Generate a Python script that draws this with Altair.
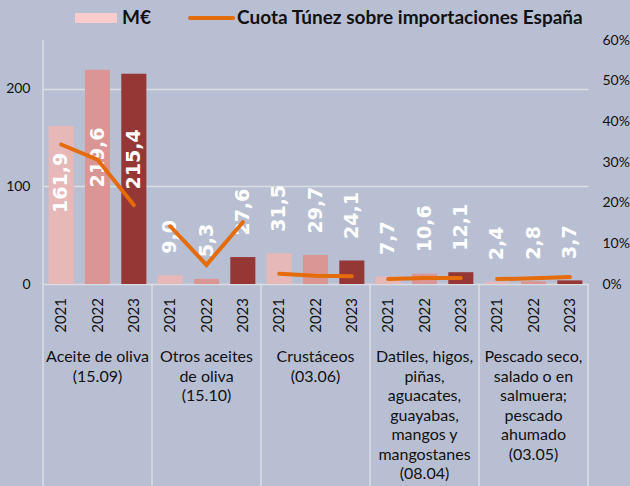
import altair as alt
import pandas as pd

categories = [
    "Aceite de oliva\n(15.09)",
    "Otros aceites\nde oliva\n(15.10)",
    "Crustáceos\n(03.06)",
    "Datiles, higos,\npiñas,\naguacates,\nguayabas,\nmangos y\nmangostanes\n(08.04)",
    "Pescado seco,\nsalado o en\nsalmuera;\npescado\nahumado\n(03.05)",
]
years = ["2021", "2022", "2023"]
meur = [
    [161.9, 219.6, 215.4],
    [9.0, 5.3, 27.6],
    [31.5, 29.7, 24.1],
    [7.7, 10.6, 12.1],
    [2.4, 2.8, 3.7],
]
share_pct = [
    [34.3, 30.6, 19.4],
    [14.2, 4.7, 15.2],
    [2.5, 2.0, 1.9],
    [1.2, 1.5, 1.5],
    [1.2, 1.4, 1.7],
]
year_colors = ["#e6b8b7", "#da9694", "#953735"]
legend_bar = "M€"
legend_line = "Cuota Túnez sobre importaciones España"

BG = "#b9bfd3"
GRID = "#dcdde3"
ORANGE = "#e46c0a"
FONT = "Lato"
W, H = 545, 244
BOTTOM = 202

rows = []
for gi, cat in enumerate(categories):
    for yi, yr in enumerate(years):
        v = meur[gi][yi]
        rows.append({
            "cat": cat, "gi": gi, "year": yr, "yi": yi,
            "pos": gi * 3 + yi + 0.5,
            "mv": v,
            "share": share_pct[gi][yi] / 100,
            "lbl": f"{v:.1f}".replace(".", ","),
        })
df = pd.DataFrame(rows)
cats_df = pd.DataFrame({"cat": categories, "cpos": [i * 3 + 1.5 for i in range(len(categories))]})
bounds_df = pd.DataFrame({"b": [i * 3 for i in range(len(categories) + 1)]})

xs = alt.Scale(domain=[0, 15], nice=False, zero=False)
ys = alt.Scale(domain=[0, 250], nice=False, zero=True)
rs = alt.Scale(domain=[0, 0.6], nice=False)

base = alt.Chart(df)

bars = base.mark_rect().transform_calculate(
    x1="datum.pos - 0.345", x2="datum.pos + 0.345", y0="0"
).encode(
    x=alt.X("x1:Q", scale=xs, axis=None),
    x2="x2:Q",
    y=alt.Y("mv:Q", scale=ys, title=None,
            axis=alt.Axis(values=[0, 100, 200], grid=True, gridColor=GRID, gridWidth=1.5,
                          domain=False, ticks=False, labelFontSize=14, labelFont=FONT,
                          labelColor="#111111", labelPadding=13)),
    y2="y0:Q",
    color=alt.Color("year:N", scale=alt.Scale(domain=years, range=year_colors), legend=None),
)

labels = base.mark_text(
    angle=270, align="left", baseline="middle", color="white",
    font="DejaVu Sans", fontSize=19, fontWeight="bold"
).transform_calculate(
    lp="datum.mv > 100 ? datum.mv * 0.45 : datum.mv + 22"
).encode(
    x=alt.X("pos:Q", scale=xs, axis=None),
    y=alt.Y("lp:Q", scale=ys, axis=None),
    text="lbl:N",
)

line = base.mark_line(color=ORANGE, strokeWidth=4, strokeCap="round").encode(
    x=alt.X("pos:Q", scale=xs, axis=None),
    y=alt.Y("share:Q", scale=rs, title=None,
            axis=alt.Axis(orient="right", values=[0, 0.1, 0.2, 0.3, 0.4, 0.5, 0.6], format=".0%",
                          grid=False, domain=False, ticks=False, labelFontSize=14,
                          labelFont=FONT, labelColor="#111111", labelPadding=14,
                          labelAlign="left")),
    detail="cat:N",
)

year_text = base.mark_text(
    angle=270, align="right", baseline="middle", font=FONT, fontSize=15, color="#111111"
).encode(
    x=alt.X("pos:Q", scale=xs, axis=None),
    y=alt.value(H + 14),
    text="year:N",
)

cat_text = alt.Chart(cats_df).mark_text(
    align="center", baseline="top", font=FONT, fontSize=16, lineBreak="\n",
    lineHeight=19.5, color="#111111"
).encode(
    x=alt.X("cpos:Q", scale=xs, axis=None),
    y=alt.value(H + 65),
    text="cat:N",
)

sep_left = alt.Chart(bounds_df).transform_filter("datum.b == 0").mark_rule(
    color=GRID, strokeWidth=1.5
).encode(
    x=alt.X("b:Q", scale=xs, axis=None),
    y=alt.value(0),
    y2=alt.value(H + BOTTOM),
)
sep = alt.Chart(bounds_df).transform_filter("datum.b > 0").mark_rule(
    color=GRID, strokeWidth=1.5
).encode(
    x=alt.X("b:Q", scale=xs, axis=None),
    y=alt.value(H),
    y2=alt.value(H + BOTTOM),
)

one = pd.DataFrame({"t": [legend_bar], "u": [legend_line]})
leg_rect = alt.Chart(one).mark_rect(color="#f9cccc").encode(
    x=alt.value(32), x2=alt.value(74), y=alt.value(-27), y2=alt.value(-17)
)
leg_t1 = alt.Chart(one).mark_text(
    align="left", baseline="middle", font=FONT, fontSize=19, fontWeight="bold", color="#111111"
).encode(x=alt.value(79), y=alt.value(-22), text="t:N")
leg_line = alt.Chart(one).mark_rule(color=ORANGE, strokeWidth=4, strokeCap="round").encode(
    x=alt.value(147), x2=alt.value(190), y=alt.value(-22)
)
leg_t2 = alt.Chart(one).mark_text(
    align="left", baseline="middle", font=FONT, fontSize=19, fontWeight="bold", color="#111111"
).encode(x=alt.value(194), y=alt.value(-22), text="u:N")

chart = alt.layer(
    bars, labels, line, year_text, cat_text, sep_left, sep,
    leg_rect, leg_t1, leg_line, leg_t2
).resolve_scale(
    y="independent"
).properties(
    width=W, height=H,
    autosize=alt.AutoSizeParams(type="none"),
    padding={"left": 43, "right": 42, "top": 40, "bottom": BOTTOM},
    background=BG,
).configure_view(stroke=None)

chart.save("out.html", embed_options={"renderer": "svg", "actions": False})
